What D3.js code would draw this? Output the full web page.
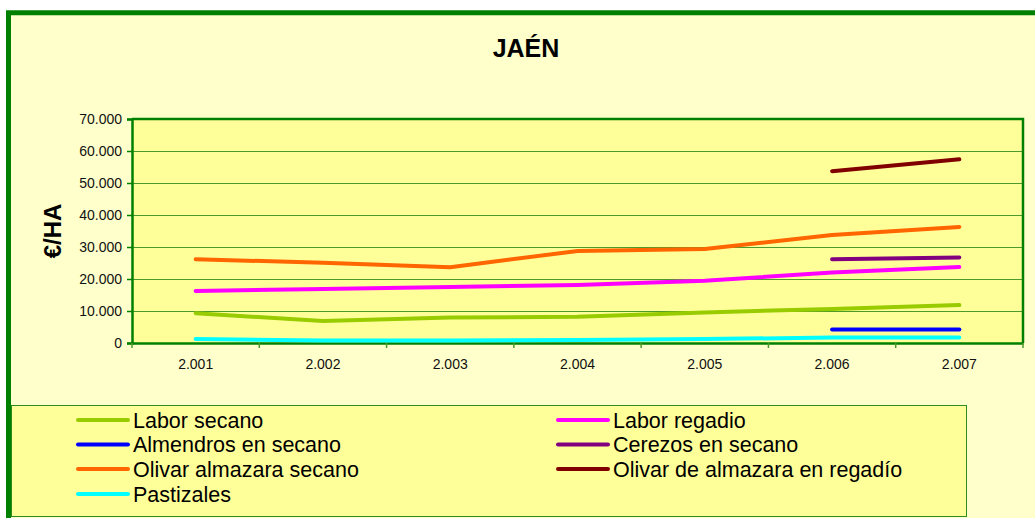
<!DOCTYPE html>
<html>
<head>
<meta charset="utf-8">
<script src="https://cdn.jsdelivr.net/npm/d3@7/dist/d3.min.js"></script>
<style>
  html, body { margin: 0; padding: 0; background: #ffffff; }
  svg { display: block; font-family: "Liberation Sans", Arial, sans-serif; }
</style>
</head>
<body>
<svg id="chart" width="1035" height="518"></svg>
<script>
// ---- data ----
const years = ["2.001", "2.002", "2.003", "2.004", "2.005", "2.006", "2.007"];
const yTicks = [0, 10000, 20000, 30000, 40000, 50000, 60000, 70000];

const laborSecano      = [9300, 6850, 7950, 8200, 9550, 10650, 11850];
const laborRegadio     = [16250, 16850, 17500, 18150, 19450, 22050, 23750];
const almendrosSecano  = [null, null, null, null, null, 4250, 4250];
const cerezosSecano    = [null, null, null, null, null, 26150, 26750];
const olivarSecano     = [26150, 25100, 23700, 28750, 29400, 33750, 36250];
const olivarRegadio    = [null, null, null, null, null, 53700, 57400];
const pastizales       = [1250, 750, 750, 950, 1250, 1680, 1680];

const seriesNames  = ["Labor secano", "Labor regadio", "Almendros en secano", "Cerezos en secano",
                      "Olivar almazara secano", "Olivar de almazara en regadío", "Pastizales"];
const seriesColors = ["#99CC00", "#FF00FF", "#0000FF", "#800080", "#FF6600", "#800000", "#00FFFF"];
const seriesValues = [laborSecano, laborRegadio, almendrosSecano, cerezosSecano,
                      olivarSecano, olivarRegadio, pastizales];

// ---- layout ----
const svg = d3.select("#chart");
const plot = { left: 132, right: 1023, top: 119, bottom: 343 };

// outer background + frame
svg.append("rect").attr("x", 8.5).attr("y", 12.75).attr("width", 1100).attr("height", 600)
  .attr("fill", "#FFFFCC").attr("stroke", "#008000").attr("stroke-width", 5);

// title
svg.append("text").attr("x", 526).attr("y", 57).attr("text-anchor", "middle")
  .attr("font-size", 25).attr("font-weight", "bold").attr("fill", "#000").text("JAÉN");

// scales
const x = d3.scaleBand().domain(years).range([plot.left, plot.right]);
const y = d3.scaleLinear().domain([0, 70000]).range([plot.bottom, plot.top]);

// plot area
svg.append("rect").attr("x", plot.left).attr("y", plot.top)
  .attr("width", plot.right - plot.left).attr("height", plot.bottom - plot.top)
  .attr("fill", "#FFFF99");

// gridlines
svg.append("g").selectAll("line").data(yTicks.slice(1, -1)).join("line")
  .attr("x1", plot.left).attr("x2", plot.right)
  .attr("y1", d => Math.round(y(d)) + 0.5).attr("y2", d => Math.round(y(d)) + 0.5)
  .attr("stroke", "#4C9A2A").attr("stroke-width", 1);

// top and right border
svg.append("path")
  .attr("d", `M${plot.left},${plot.top} H${plot.right} V${plot.bottom}`)
  .attr("fill", "none").attr("stroke", "#008000").attr("stroke-width", 2.5);

const fmt = v => v === 0 ? "0" : d3.format(",")(v).replace(/,/g, ".");

// y axis
const yAxis = svg.append("g").attr("transform", `translate(${plot.left},0)`)
  .call(d3.axisLeft(y).tickValues(yTicks).tickFormat(fmt).tickSize(5).tickPadding(5));
yAxis.select(".domain").attr("stroke", "#008000").attr("stroke-width", 2.5);
yAxis.selectAll(".tick line").attr("stroke", "#008000").attr("stroke-width", 1.5);
yAxis.selectAll("text").attr("font-size", 14).attr("fill", "#111")
  .attr("font-family", "Liberation Sans, Arial, sans-serif");

// x axis
const xAxis = svg.append("g").attr("transform", `translate(0,${plot.bottom})`)
  .call(d3.axisBottom(x).tickSize(0).tickPadding(16));
xAxis.select(".domain").attr("stroke", "#008000").attr("stroke-width", 2.5);
xAxis.selectAll("text").attr("font-size", 14).attr("fill", "#111")
  .attr("font-family", "Liberation Sans, Arial, sans-serif");
// category boundary ticks
const bounds = years.map(d => x(d)).concat([plot.right]);
xAxis.append("g").selectAll("line").data(bounds).join("line")
  .attr("x1", d => d).attr("x2", d => d).attr("y1", 0).attr("y2", 5)
  .attr("stroke", "#4C9A2A").attr("stroke-width", 1.5);

// y axis title
svg.append("text").attr("transform", "translate(61,231) rotate(-90)")
  .attr("text-anchor", "middle").attr("font-size", 24).attr("font-weight", "bold")
  .attr("fill", "#000").text("€/HA");

// lines
const line = d3.line()
  .defined(d => d.v !== null)
  .x(d => x(d.year) + x.bandwidth() / 2)
  .y(d => y(d.v));

seriesValues.forEach((vals, i) => {
  const data = years.map((yr, j) => ({ year: yr, v: vals[j] }));
  svg.append("path").datum(data)
    .attr("d", line)
    .attr("fill", "none")
    .attr("stroke", seriesColors[i])
    .attr("stroke-width", 4)
    .attr("stroke-linecap", "round")
    .attr("stroke-linejoin", "round");
});

// legend
svg.append("rect").attr("x", 11.5).attr("y", 405.5).attr("width", 955).attr("height", 111)
  .attr("fill", "#FFFF99").attr("stroke", "#2E8B1E").attr("stroke-width", 1);

const legendCols = [78, 558];
const legendRows = [420, 444.5, 469, 494];
seriesNames.forEach((name, i) => {
  const cx = legendCols[i % 2];
  const cy = legendRows[Math.floor(i / 2)];
  svg.append("line").attr("x1", cx).attr("x2", cx + 50).attr("y1", cy).attr("y2", cy)
    .attr("stroke", seriesColors[i]).attr("stroke-width", 4).attr("stroke-linecap", "round");
  svg.append("text").attr("x", cx + 55).attr("y", cy + 7.5)
    .attr("font-size", 21.5).attr("fill", "#000").text(name);
});
</script>
</body>
</html>
